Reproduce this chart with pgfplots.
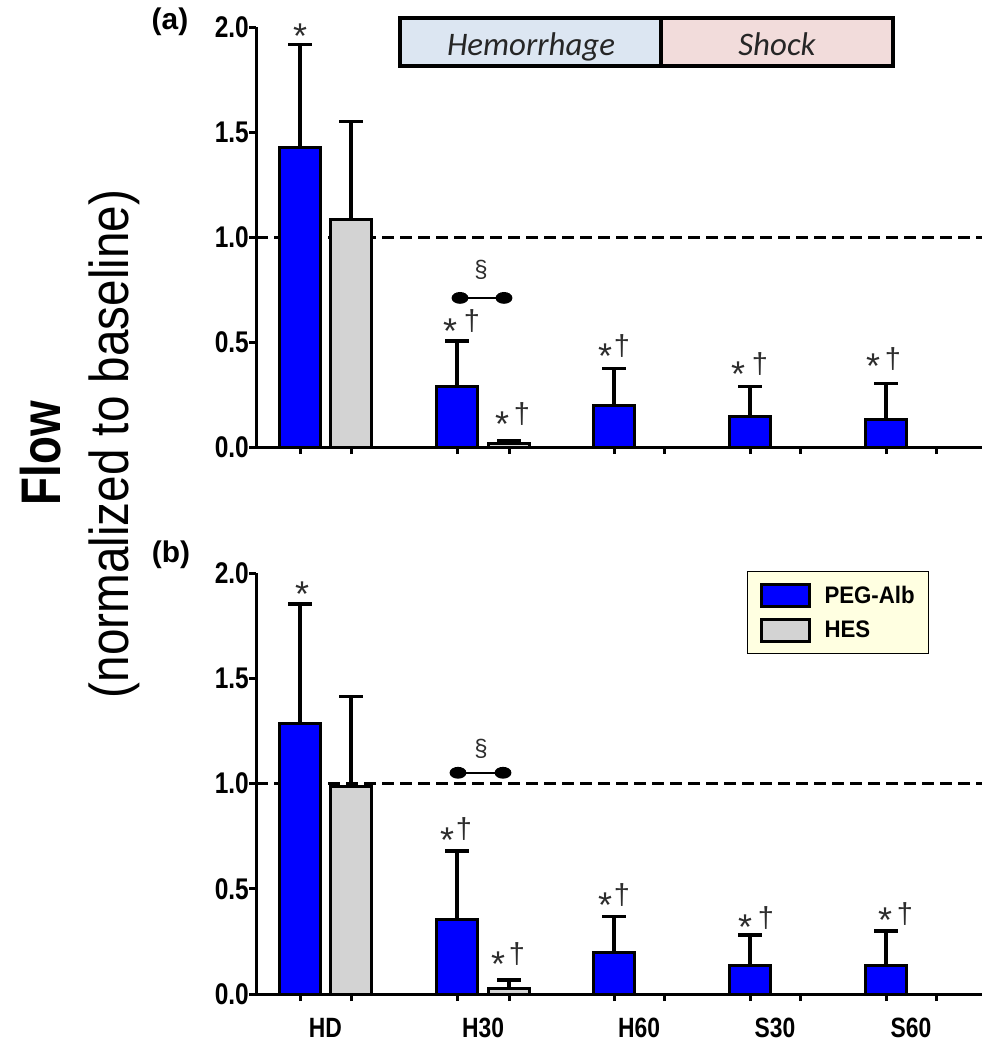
\documentclass[border=0pt]{standalone}
\usepackage{pgfplots}
\pgfplotsset{compat=1.18}
\usepackage{fontspec}
\setmainfont{Liberation Sans}
\newfontfamily\calib{Carlito}
\definecolor{pegblue}{RGB}{0,0,255}
\definecolor{hesgray}{RGB}{211,211,211}
\definecolor{hemblue}{RGB}{220,230,242}
\definecolor{shockpink}{RGB}{242,220,219}
\definecolor{legyellow}{RGB}{255,255,225}
\definecolor{anncol}{RGB}{45,45,45}
\newcommand{\fs}[1]{\fontsize{#1}{#1}\selectfont}

\pgfplotsset{
  panel/.style={
    scale only axis, width=726bp,
    xmin=256, xmax=982, ymin=0, ymax=2,
    axis x line*=bottom, axis y line*=left,
    axis line style={-, line width=3bp, black},
    every outer x axis line/.append style={-},
    every outer y axis line/.append style={-},
    tick align=outside, major tick length=7bp,
    tick style={line width=3bp, black},
    ytick={0,0.5,1,1.5,2},
    xtick={300,351,457,509,614,664,750,800,886,936},
    xticklabels={},
    yticklabel style={font=\fs{30}\bfseries, anchor=east, inner sep=0pt, xscale=0.82,
      /pgf/number format/.cd, fixed, fixed zerofill, precision=1, assume math mode=true},
    clip=false,
  },
  barbase/.style={ybar, bar width=41, bar shift=0pt, draw=black, line width=3bp,
    legend image code/.code={\draw[##1, line width=3bp] (0bp,-11bp) rectangle (48bp,11bp);},
    error bars/y dir=plus, error bars/y explicit,
    error bars/error bar style={line width=3.3bp, black},
    error bars/error mark options={rotate=90, line width=3.3bp, mark size=12bp, black}},
  refline/.style={black, line width=3bp, dash pattern=on 12bp off 6bp, forget plot},
  dumbbell/.style={black, line width=1.8bp, mark=*, mark size=5bp, mark options={xscale=1.5, fill=black}, forget plot},
}
\tikzset{
  st/.style={anchor=base, yshift=-21bp, font=\fs{36}, text=anncol, inner sep=0pt},
  dg/.style={anchor=base, yshift=-8bp, font=\fs{29}, text=anncol, inner sep=0pt},
  sec/.style={font=\fs{24}, text=anncol, inner sep=0pt},
}

\begin{document}
\begin{tikzpicture}
\useasboundingbox (0bp,0bp) rectangle (1004bp,-1055bp);

% ---------- panel (a) ----------
\begin{axis}[panel, height=420bp, at={(256bp,-447bp)}, anchor=south west]
\addplot[refline] coordinates {(256,1) (982,1)};
\addplot[barbase, fill=pegblue] coordinates {
  (300,1.425) +- (0,0.493)
  (457,0.290) +- (0,0.215)
  (614,0.197) +- (0,0.178)
  (750,0.144) +- (0,0.143)
  (886,0.133) +- (0,0.170)
};
\addplot[barbase, fill=hesgray] coordinates {
  (351,1.081) +- (0,0.468)
  (509,0.015) +- (0,0.015)
};
\addplot[dumbbell] coordinates {(460,0.71) (504,0.71)};
\node[sec] at (axis cs:481,0.843) {\S};
\node[st] at (axis cs:300,1.998) {*};
\node[st] at (axis cs:450,0.595) {*};
\node[dg] at (axis cs:472,0.595) {\textdagger};
\node[st] at (axis cs:502,0.152) {*};
\node[dg] at (axis cs:522,0.152) {\textdagger};
\node[st] at (axis cs:605,0.476) {*};
\node[dg] at (axis cs:622,0.476) {\textdagger};
\node[st] at (axis cs:738,0.390) {*};
\node[dg] at (axis cs:760,0.390) {\textdagger};
\node[st] at (axis cs:873,0.424) {*};
\node[dg] at (axis cs:893,0.414) {\textdagger};
\end{axis}

% ---------- panel (b) ----------
\begin{axis}[panel, height=421bp, at={(256bp,-994bp)}, anchor=south west,
  extra x ticks={325.5,483,639,775,911},
  extra x tick labels={HD,H30,H60,S30,S60},
  extra x tick style={major tick length=0pt,
     xticklabel style={font=\fs{28}\bfseries, xscale=0.82, anchor=north, inner sep=0pt, yshift=-24bp}},
  legend style={at={(0.676,1.005)}, anchor=north west, draw=black, line width=1.5bp,
     fill=legyellow, font=\fs{24}\bfseries, inner xsep=12bp, inner ysep=11bp,
     row sep=10bp, cells={anchor=west},
     /tikz/every odd column/.append style={column sep=12bp}},
  legend cell align=left]
\addplot[refline] coordinates {(256,1) (982,1)};
\addplot[barbase, fill=pegblue] coordinates {
  (300,1.286) +- (0,0.567)
  (457,0.352) +- (0,0.328)
  (614,0.196) +- (0,0.171)
  (750,0.136) +- (0,0.144)
  (886,0.136) +- (0,0.163)
};
\addlegendentry{\scalebox{0.93}[1]{PEG-Alb}}
\addplot[barbase, fill=hesgray] coordinates {
  (351,0.988) +- (0,0.424)
  (509,0.024) +- (0,0.043)
};
\addlegendentry{\scalebox{0.93}[1]{HES}}
\addplot[dumbbell] coordinates {(458,1.051) (503,1.051)};
\node[sec] at (axis cs:481,1.164) {\S};
\node[st] at (axis cs:302,1.943) {*};
\node[st] at (axis cs:447,0.770) {*};
\node[dg] at (axis cs:464,0.779) {\textdagger};
\node[st] at (axis cs:498,0.181) {*};
\node[dg] at (axis cs:517,0.181) {\textdagger};
\node[st] at (axis cs:605,0.461) {*};
\node[dg] at (axis cs:622,0.461) {\textdagger};
\node[st] at (axis cs:745,0.361) {*};
\node[dg] at (axis cs:766,0.352) {\textdagger};
\node[st] at (axis cs:885,0.390) {*};
\node[dg] at (axis cs:905,0.375) {\textdagger};
\end{axis}

% ---------- phase banner ----------
\draw[line width=4bp, fill=hemblue] (400bp,-18bp) rectangle (661bp,-66bp);
\draw[line width=4bp, fill=shockpink] (661bp,-18bp) rectangle (893bp,-66bp);
\node[anchor=base, font=\calib\itshape\fs{33}, text=black!85, inner sep=0pt] at (531bp,-55bp) {Hemorrhage};
\node[anchor=base, font=\calib\itshape\fs{33}, text=black!85, inner sep=0pt] at (777bp,-55bp) {Shock};

% ---------- panel labels ----------
\node[font=\fs{30}\bfseries] at (170bp,-22bp) {(a)};
\node[font=\fs{30}\bfseries] at (171bp,-555bp) {(b)};

% ---------- y-axis title ----------
\node[rotate=90, anchor=base, font=\fs{56}\bfseries, inner sep=0pt] at (60bp,-453bp) {\scalebox{0.82}[1]{Flow}};
\node[rotate=90, anchor=base, font=\fs{55}, inner sep=0pt] at (128bp,-444bp) {\scalebox{0.87}[1]{(normalized to baseline)}};
\end{tikzpicture}
\end{document}
